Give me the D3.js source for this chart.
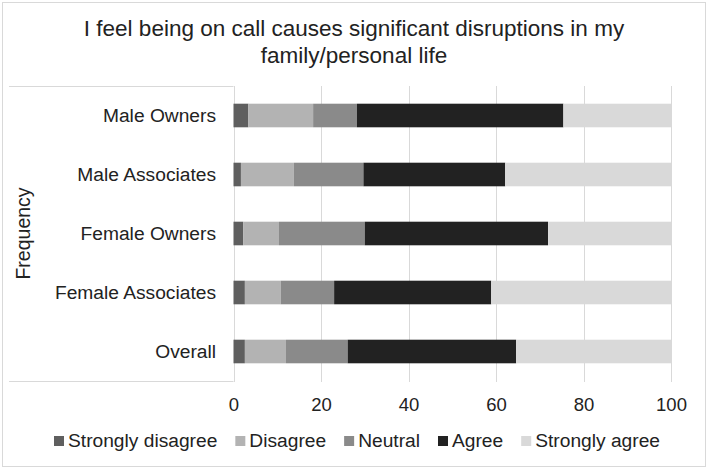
<!DOCTYPE html>
<html>
<head>
<meta charset="utf-8">
<script src="https://cdn.jsdelivr.net/npm/d3@7/dist/d3.min.js"></script>
<style>
  html, body { margin: 0; padding: 0; background: #fff; }
  text { font-family: "Liberation Sans", Arial, sans-serif; fill: #222; }
</style>
</head>
<body>
<svg id="chart" width="708" height="469"></svg>
<script>
const titleLines = ["I feel being on call causes significant disruptions in my", "family/personal life"];
const categories = ["Male Owners", "Male Associates", "Female Owners", "Female Associates", "Overall"];
const seriesNames = ["Strongly disagree", "Disagree", "Neutral", "Agree", "Strongly agree"];
const stronglyDisagree = [3.4, 1.7, 2.2, 2.6, 2.6];
const disagree = [14.8, 12.1, 8.2, 8.2, 9.4];
const neutral = [10.0, 15.9, 19.6, 12.2, 14.1];
const agree = [47.2, 32.4, 41.9, 35.9, 38.5];
const stronglyAgree = [24.6, 37.9, 28.1, 41.1, 35.4];
const xTicks = [0, 20, 40, 60, 80, 100];
const colors = ["#5f5f5f", "#b3b3b3", "#8a8a8a", "#222222", "#d9d9d9"];

const seriesValues = [stronglyDisagree, disagree, neutral, agree, stronglyAgree];
const table = categories.map((c, i) => {
  const row = { category: c };
  seriesNames.forEach((s, j) => { row[s] = seriesValues[j][i]; });
  return row;
});

const svg = d3.select("#chart");
const plotLeft = 233.5, plotRight = 671, plotTop = 86, plotBottom = 381;

// outer border
svg.append("rect").attr("x", 2.5).attr("y", 2.5).attr("width", 703).attr("height", 464)
  .attr("fill", "#fff").attr("stroke", "#d9d9d9").attr("stroke-width", 1);

// title
svg.append("text").attr("text-anchor", "middle").attr("font-size", "22.5px")
  .selectAll("tspan").data(titleLines).join("tspan")
  .attr("x", 354).attr("y", (d, i) => 36 + i * 27).text(d => d);

const x = d3.scaleLinear().domain([0, 100]).range([plotLeft, plotRight]);
const y = d3.scaleBand().domain(categories).range([plotTop, plotBottom]).paddingInner(0.6).paddingOuter(0.3);

// left panel lines
svg.append("line").attr("x1", 9).attr("x2", plotLeft).attr("y1", plotTop + 0.5).attr("y2", plotTop + 0.5)
  .attr("stroke", "#d9d9d9");
svg.append("line").attr("x1", 9).attr("x2", plotLeft).attr("y1", plotBottom + 0.5).attr("y2", plotBottom + 0.5)
  .attr("stroke", "#d9d9d9");

// gridlines
svg.append("g").selectAll("line").data(xTicks).join("line")
  .attr("x1", d => Math.round(x(d)) + 0.5).attr("x2", d => Math.round(x(d)) + 0.5)
  .attr("y1", plotTop).attr("y2", plotBottom + 1)
  .attr("stroke", "#d9d9d9").attr("stroke-width", 1);

// bars
const stack = d3.stack().keys(seriesNames);
const stacked = stack(table);
svg.append("g").selectAll("g").data(stacked).join("g")
  .attr("fill", (d, i) => colors[i])
  .selectAll("rect").data(d => d).join("rect")
  .attr("x", d => x(d[0]))
  .attr("width", d => x(d[1]) - x(d[0]))
  .attr("y", d => y(d.data.category))
  .attr("height", y.bandwidth());

// x axis tick labels
const xAxis = d3.axisBottom(x).tickValues(xTicks).tickSize(0).tickPadding(0);
const gx = svg.append("g").attr("transform", `translate(0,${plotBottom})`).call(xAxis);
gx.select(".domain").remove();
gx.selectAll("text").attr("font-size", "18.5px").attr("font-family", "Liberation Sans, Arial, sans-serif")
  .attr("fill", "#222").attr("dy", null).attr("y", 30);

// y axis labels
const yAxis = d3.axisLeft(y).tickSize(0).tickPadding(0);
const gy = svg.append("g").attr("transform", `translate(216,0)`).call(yAxis);
gy.select(".domain").remove();
gy.selectAll("text").attr("font-size", "19.2px").attr("font-family", "Liberation Sans, Arial, sans-serif")
  .attr("fill", "#222").attr("dy", "0.36em");

// axis title
svg.append("text").attr("transform", "translate(30,233.5) rotate(-90)")
  .attr("text-anchor", "middle").attr("font-size", "19.5px").text("Frequency");

// legend
const lg = svg.append("g");
const items = lg.selectAll("g").data(seriesNames).join("g");
items.append("rect").attr("width", 10).attr("height", 10).attr("y", 436)
  .attr("fill", (d, i) => colors[i]);
items.append("text").attr("x", 14).attr("y", 447).attr("font-size", "19.2px").text(d => d);
const widths = [];
items.each(function () { widths.push(14 + d3.select(this).select("text").node().getComputedTextLength()); });
const spanStart = 54, spanEnd = 660;
const gap = (spanEnd - spanStart - d3.sum(widths)) / (widths.length - 1);
let cx = spanStart;
items.each(function (d, i) {
  d3.select(this).attr("transform", `translate(${cx},0)`);
  cx += widths[i] + gap;
});
</script>
</body>
</html>
